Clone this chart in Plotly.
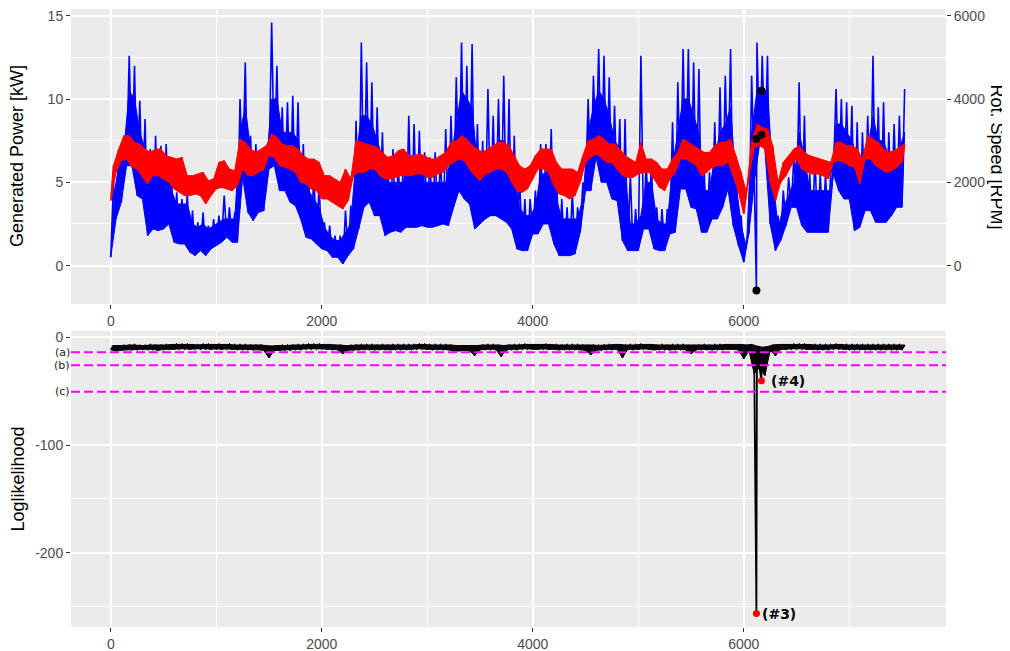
import plotly.graph_objects as go

# ---------------- data ----------------
BIN = 50  # samples per bin; each bin gives min / dense-band top / max of the series

power_lo = [0.5, 2.8, 3.8, 6.0, 6.0, 4.2, 4.0, 1.8, 2.2, 2.1,
            2.2, 2.5, 1.4, 1.3, 1.3, 0.8, 0.6, 0.9, 0.6, 1.0,
            1.2, 1.4, 1.7, 1.4, 1.4, 5.3, 3.2, 2.7, 3.2, 3.3,
            5.8, 6.0, 4.5, 4.5, 3.8, 3.6, 2.8, 1.7, 1.6, 1.3,
            1.0, 0.9, 0.5, 0.5, 0.1, 0.6, 1.0, 2.2, 3.5, 3.8,
            3.0, 3.0, 1.8, 2.0, 2.1, 2.0, 2.3, 2.3, 2.3, 2.4,
            2.3, 2.3, 2.4, 2.5, 2.4, 3.5, 4.5, 4.0, 3.7, 2.2,
            2.5, 2.8, 3.0, 3.0, 2.8, 2.6, 2.2, 1.0, 0.9, 0.9,
            1.9, 1.9, 2.5, 2.5, 1.3, 0.6, 0.6, 0.6, 0.7, 2.0,
            4.5, 4.5, 6.5, 5.0, 5.0, 4.0, 3.9, 1.5, 0.9, 0.9,
            0.9, 2.2, 2.2, 1.0, 0.9, 0.9, 1.9, 2.0, 4.6, 4.6,
            3.5, 3.4, 2.0, 2.0, 2.8, 2.8, 3.5, 4.6, 2.4, 1.2,
            0.2, 2.0, 5.0, 7.3, 7.0, 2.5, 0.9, 1.5, 2.4, 3.5,
            3.5, 2.4, 2.0, 2.0, 2.0, 2.0, 2.0, 5.5, 4.5, 4.0,
            4.0, 2.1, 2.3, 3.3, 3.3, 2.6, 2.6, 2.6, 3.0, 3.5,
            3.5]
power_core = [4.0, 6.0, 7.0, 10.5, 10.0, 8.0, 7.0, 6.3, 6.3, 6.3,
              6.0, 4.5, 3.7, 3.7, 3.7, 2.5, 2.3, 2.5, 2.2, 2.4,
              2.6, 2.8, 2.8, 2.8, 8.0, 9.5, 7.0, 6.0, 5.5, 6.0,
              10.0, 10.0, 8.0, 8.0, 8.0, 7.5, 5.5, 4.5, 4.0, 3.5,
              2.3, 1.8, 1.5, 1.5, 2.0, 2.5, 6.5, 9.0, 9.0, 8.5,
              7.5, 6.5, 5.0, 5.0, 5.0, 5.0, 6.5, 6.5, 6.0, 5.0,
              5.0, 5.0, 5.0, 5.0, 6.5, 8.5, 10.5, 10.0, 9.5, 6.0,
              5.5, 7.0, 7.0, 7.5, 7.5, 7.0, 5.5, 3.5, 3.0, 3.0,
              3.5, 5.5, 5.5, 6.0, 4.0, 2.8, 2.8, 2.8, 2.8, 4.0,
              8.0, 9.5, 10.5, 10.0, 9.0, 7.5, 7.0, 5.5, 2.5, 2.5,
              3.0, 5.0, 5.0, 2.8, 2.5, 2.5, 6.0, 8.0, 10.0, 10.0,
              9.0, 8.0, 4.5, 4.5, 6.5, 8.0, 8.5, 9.5, 5.0, 2.5,
              1.0, 8.0, 10.5, 10.5, 10.5, 5.5, 2.2, 3.5, 4.2, 5.0,
              8.0, 6.5, 4.5, 4.5, 4.5, 4.5, 4.5, 8.5, 8.5, 8.0,
              7.5, 6.5, 5.5, 7.0, 9.0, 7.5, 7.5, 6.5, 6.5, 7.0,
              8.0]
power_hi = [5.0, 6.8, 7.4, 12.6, 12.0, 9.9, 8.8, 7.0, 7.8, 7.2,
            7.3, 5.6, 4.4, 4.0, 4.3, 3.3, 2.6, 3.2, 2.4, 2.8,
            3.0, 4.2, 3.5, 3.2, 10.0, 12.2, 7.8, 7.3, 6.5, 7.0,
            14.6, 12.0, 9.5, 9.8, 10.2, 9.8, 7.3, 5.3, 5.5, 4.9,
            2.6, 2.4, 1.8, 1.8, 3.3, 3.6, 8.7, 13.4, 12.2, 11.0,
            9.5, 8.0, 6.5, 7.0, 6.2, 7.0, 9.0, 8.5, 8.1, 6.8,
            6.5, 6.8, 6.5, 8.2, 9.0, 11.3, 13.4, 12.0, 13.3, 8.5,
            7.5, 10.6, 9.0, 10.0, 11.4, 10.0, 7.8, 5.4, 4.0, 4.0,
            4.5, 7.3, 7.3, 8.2, 5.5, 4.0, 3.5, 4.4, 3.5, 5.0,
            10.0, 11.4, 13.0, 12.6, 11.3, 9.6, 8.8, 8.8, 5.5, 3.4,
            12.6, 6.2, 6.2, 3.5, 3.4, 3.4, 8.6, 11.0, 13.0, 13.0,
            12.2, 11.8, 5.6, 5.6, 8.6, 10.7, 11.4, 13.0, 6.0, 3.0,
            1.5, 11.4, 13.4, 12.6, 12.6, 7.0, 3.0, 4.5, 5.3, 6.5,
            11.0, 9.0, 5.5, 6.5, 5.5, 5.5, 5.8, 10.6, 10.0, 9.8,
            9.6, 8.6, 8.0, 9.0, 12.6, 9.5, 9.8, 8.0, 8.5, 9.0,
            10.6]

rpm_lo = [1560, 2240, 2520, 2560, 2360, 2320, 2120, 1960, 2160, 2160,
          2080, 2000, 1840, 1760, 1680, 1680, 1720, 1680, 1480, 1680,
          1840, 1880, 1840, 1800, 1920, 2320, 2160, 2160, 2240, 2320,
          2640, 2600, 2400, 2360, 2320, 2240, 2000, 1960, 1840, 1800,
          1600, 1600, 1520, 1440, 1360, 1560, 2160, 2240, 2240, 2320,
          2320, 2160, 2080, 2080, 2120, 2160, 2160, 2160, 2200, 2200,
          2120, 2120, 2200, 2240, 2400, 2480, 2560, 2520, 2320, 2160,
          2040, 2200, 2240, 2320, 2320, 2240, 2000, 1800, 1760, 1840,
          2080, 2320, 2320, 2240, 1920, 1720, 1680, 1600, 1680, 2000,
          2480, 2600, 2680, 2600, 2480, 2480, 2320, 2160, 2120, 2120,
          2200, 2240, 2240, 2080, 1880, 1800, 2080, 2240, 2560, 2560,
          2480, 2400, 2160, 2240, 2360, 2400, 2400, 2480, 2160, 1760,
          1240, 2160, 2840, 2880, 2800, 2000, 1560, 2000, 2160, 2400,
          2560, 2320, 2240, 2200, 2200, 2160, 2080, 2480, 2520, 2480,
          2400, 2360, 1960, 2560, 2560, 2400, 2320, 2240, 2280, 2360,
          2480]
rpm_hi = [2400, 2800, 3120, 3120, 2960, 2920, 2800, 2720, 2800, 2800,
          2640, 2600, 2560, 2600, 2160, 2160, 2200, 2240, 2040, 2080,
          2480, 2520, 2320, 2280, 3040, 2960, 2800, 2720, 2800, 2880,
          3160, 3080, 2920, 2880, 2880, 2800, 2640, 2560, 2560, 2480,
          2160, 2160, 2080, 2000, 2320, 2080, 3000, 2960, 2920, 2880,
          2840, 2720, 2600, 2640, 2760, 2800, 2640, 2640, 2680, 2640,
          2560, 2560, 2640, 2720, 2960, 3000, 3120, 3040, 2880, 2800,
          2720, 2800, 2880, 2960, 2960, 2880, 2640, 2400, 2320, 2400,
          2640, 2800, 2800, 2800, 2480, 2320, 2320, 2320, 2240, 2640,
          3000, 3040, 3120, 3040, 2920, 2920, 2800, 2640, 2560, 2480,
          2960, 2560, 2560, 2480, 2320, 2320, 2560, 2720, 3040, 2960,
          2880, 2800, 2720, 2720, 2880, 2960, 2960, 3040, 2640, 2240,
          1760, 2960, 3400, 3320, 3280, 2880, 2000, 2480, 2640, 2800,
          2880, 2720, 2640, 2600, 2560, 2520, 2480, 2960, 2960, 2880,
          2880, 2800, 2560, 3120, 3040, 2960, 2800, 2720, 2760, 2840,
          2920]

ll_hi = [-7.5, -7.5, -7.5, -7.0, -7.0, -7.5, -7.5, -7.0, -7.0, -7.0,
         -7.0, -6.5, -6.5, -6.5, -6.5, -6.5, -7.0, -6.5, -6.5, -6.5,
         -6.5, -6.5, -6.5, -7.0, -7.0, -7.0, -7.0, -7.0, -7.0, -7.5,
         -8.0, -7.5, -7.5, -7.5, -7.0, -7.0, -7.0, -6.5, -6.5, -6.5,
         -6.5, -6.5, -7.0, -7.0, -7.5, -7.5, -7.0, -7.0, -7.0, -7.0,
         -7.0, -7.0, -7.0, -7.0, -7.0, -7.0, -7.0, -7.0, -6.5, -6.5,
         -7.0, -7.0, -7.0, -7.0, -7.0, -7.5, -7.5, -7.5, -7.5, -7.5,
         -7.0, -7.0, -7.0, -7.0, -7.5, -7.0, -7.0, -7.0, -6.5, -6.5,
         -6.5, -6.5, -6.5, -6.5, -7.0, -7.0, -7.0, -7.0, -7.0, -7.0,
         -7.0, -7.0, -7.5, -7.0, -7.0, -6.5, -6.5, -7.0, -7.0, -7.0,
         -6.5, -6.5, -6.5, -7.0, -7.0, -7.0, -7.0, -7.0, -7.0, -7.0,
         -7.0, -7.0, -7.0, -7.0, -7.0, -7.0, -6.5, -6.5, -6.5, -6.5,
         -7.0, -6.5, -8.0, -9.0, -8.5, -7.0, -6.5, -6.5, -6.5, -6.5,
         -6.5, -6.5, -6.5, -7.0, -7.0, -7.0, -7.0, -6.5, -6.5, -7.0,
         -7.0, -7.0, -7.0, -7.0, -7.0, -7.0, -7.0, -7.0, -7.0, -7.0,
         -7.0]
ll_lo = [-11.5, -12.5, -12.0, -11.5, -11.5, -11.0, -11.0, -11.0, -11.0, -12.0,
         -11.0, -11.0, -11.0, -10.5, -10.5, -11.0, -10.5, -10.5, -10.5, -11.0,
         -10.5, -11.0, -10.5, -11.0, -11.0, -11.0, -11.0, -11.5, -11.5, -12.0,
         -18.9, -12.0, -12.0, -11.5, -11.5, -11.0, -11.0, -10.5, -10.5, -10.5,
         -10.5, -11.0, -11.0, -11.5, -15.2, -12.0, -11.5, -11.5, -11.0, -11.0,
         -11.5, -11.0, -11.0, -11.5, -11.0, -11.0, -11.0, -11.0, -10.5, -10.5,
         -11.0, -11.0, -11.0, -11.0, -11.5, -12.5, -12.5, -12.0, -12.5, -16.7,
         -11.5, -11.0, -11.0, -11.0, -17.7, -11.5, -11.0, -11.0, -10.5, -10.5,
         -11.0, -11.0, -10.5, -11.0, -11.0, -11.5, -11.0, -11.0, -11.0, -11.5,
         -12.0, -16.0, -12.0, -11.5, -11.0, -11.0, -11.0, -18.9, -11.0, -11.0,
         -11.0, -10.5, -11.0, -11.5, -11.0, -11.0, -11.5, -11.0, -11.0, -11.5,
         -15.2, -11.5, -11.0, -11.0, -11.5, -11.0, -11.0, -11.0, -11.0, -11.5,
         -19.8, -12.5, -33.8, -28.0, -35.3, -12.0, -16.7, -11.0, -11.0, -10.5,
         -10.5, -10.5, -11.0, -11.0, -11.0, -11.0, -11.0, -10.5, -10.5, -11.0,
         -11.0, -11.0, -11.0, -11.0, -11.0, -11.0, -11.0, -11.0, -11.0, -11.0,
         -11.0]

event_t = [6120, 6167]
event_power = [-1.5, 10.5]
event_rpm = [3040, 3140]
event_ll = [-256.5, -40.3]
event_labels = ["(#3)", "(#4)"]

thresholds = [-13.8, -25.8, -50.5]
threshold_labels = ["(a)", "(b)", "(c)"]


def zigzag(lo, hi, ev_t=(), ev_v=()):
    """min at bin start, max at bin middle, plus the marked events."""
    pts = []
    for i, (a, b) in enumerate(zip(lo, hi)):
        pts.append((i * BIN, a))
        pts.append((i * BIN + BIN / 2, b))
    pts += list(zip(ev_t, ev_v))
    pts.sort(key=lambda p: p[0])
    return [p[0] for p in pts], [p[1] for p in pts]


def band(lo, top):
    """closed polygon: top edge forward, bottom edge backward."""
    n = len(lo)
    xs = [i * BIN + BIN / 2 for i in range(n)] + [i * BIN for i in reversed(range(n))]
    ys = list(top) + list(reversed(lo))
    return xs, ys


pt_x, pt_y = zigzag(power_lo, power_hi, event_t, event_power)
pb_x, pb_y = band(power_lo, power_core)
rt_x, rt_y = zigzag(rpm_lo, rpm_hi, event_t, event_rpm)
rb_x, rb_y = band(rpm_lo, rpm_hi)
lt_x, lt_y = zigzag(ll_lo, ll_hi, event_t, event_ll)
lb_x, lb_y = band(ll_lo, ll_hi)

# ---------------- figure ----------------
# the page body has an 8px margin, so the figure is 8px smaller and
# margins are measured from (8, 8)
OFF = 8
W, H = 1010 - OFF, 651 - OFF
PL, PR, PT, PB = 71, 946, 9, 627          # absolute plot-area edges
ML, MR, MT, MB = PL - OFF, (W + OFF) - PR, PT - OFF, (H + OFF) - PB
ph = PB - PT
pw = PR - PL
top_dom = [1 - (304 - PT) / ph, 1]
bot_dom = [0, (PB - 331) / ph]

xr = [-377, 7917]
p_rng = [-2.305, 15.405]
r_rng = [p_rng[0] * 400, p_rng[1] * 400]
l_rng = [-269, 6]

TICKF = dict(family="Liberation Sans, Arial, sans-serif", size=14, color="#4D4D4D")
TITLEF = dict(family="Liberation Sans, Arial, sans-serif", size=18, color="black")
BLUE, RED = "#0000FF", "#FF0000"

fig = go.Figure()
fig.add_trace(go.Scatter(x=pb_x, y=pb_y, mode="lines", fill="toself", fillcolor=BLUE,
                         line=dict(color=BLUE, width=1, simplify=False),
                         xaxis="x", yaxis="y", hoverinfo="skip"))
fig.add_trace(go.Scatter(x=pt_x, y=pt_y, mode="lines",
                         line=dict(color=BLUE, width=1.6, simplify=False),
                         xaxis="x", yaxis="y", hoverinfo="skip"))
fig.add_trace(go.Scatter(x=rb_x, y=rb_y, mode="lines", fill="toself", fillcolor=RED,
                         line=dict(color=RED, width=1, simplify=False),
                         xaxis="x", yaxis="y2", hoverinfo="skip"))
fig.add_trace(go.Scatter(x=rt_x, y=rt_y, mode="lines",
                         line=dict(color=RED, width=1.6, simplify=False),
                         xaxis="x", yaxis="y2", hoverinfo="skip"))
fig.add_trace(go.Scatter(x=event_t, y=event_power, mode="markers",
                         marker=dict(color="black", size=8), xaxis="x", yaxis="y"))
fig.add_trace(go.Scatter(x=event_t, y=event_rpm, mode="markers",
                         marker=dict(color="black", size=8), xaxis="x", yaxis="y2"))

fig.add_trace(go.Scatter(x=lb_x, y=lb_y, mode="lines", fill="toself", fillcolor="black",
                         line=dict(color="black", width=1, simplify=False),
                         xaxis="x2", yaxis="y3", hoverinfo="skip"))
fig.add_trace(go.Scatter(x=lt_x, y=lt_y, mode="lines",
                         line=dict(color="black", width=1.8, simplify=False),
                         xaxis="x2", yaxis="y3", hoverinfo="skip"))
for th in thresholds:
    fig.add_trace(go.Scatter(x=xr, y=[th, th], mode="lines",
                             line=dict(color="#FF00FF", width=2, dash="9px,4px"),
                             xaxis="x2", yaxis="y3", hoverinfo="skip"))
fig.add_trace(go.Scatter(x=event_t, y=event_ll, mode="markers",
                         marker=dict(color=RED, size=7), xaxis="x2", yaxis="y3"))

ann = []
for t, v, lab, sh in zip(event_t, event_ll, event_labels, [4, 8]):
    ann.append(dict(x=t, y=v, xref="x2", yref="y3", text=lab, showarrow=False,
                    xanchor="left", xshift=sh,
                    font=dict(family="DejaVu Sans", size=14, color="black", weight="bold")))
for th, lab in zip(thresholds, threshold_labels):
    ann.append(dict(x=0, y=th, xref="paper", yref="y3", text=lab, showarrow=False,
                    xanchor="right", xshift=1,
                    font=dict(family="DejaVu Sans", size=11, color="#1A1A1A")))
ann.append(dict(x=(17.5 - PL) / pw, y=0.5, xref="paper", yref="y domain",
                xanchor="center", yanchor="middle",
                text="Generated Power [kW]", textangle=-90, showarrow=False, font=TITLEF))
ann.append(dict(x=1 + (996 - PR) / pw, y=0.5, xref="paper", yref="y domain",
                xanchor="center", yanchor="middle",
                text="Rot. Speed [RPM]", textangle=90, showarrow=False, font=TITLEF))
ann.append(dict(x=(17.5 - PL) / pw, y=0.5, xref="paper", yref="y3 domain",
                xanchor="center", yanchor="middle",
                text="Loglikelihood", textangle=-90, showarrow=False, font=TITLEF))

axcommon = dict(showline=False, zeroline=False, ticks="outside", ticklen=4, tickwidth=1.3,
                tickcolor="#333333", tickfont=TICKF, gridcolor="white", gridwidth=2,
                automargin=False, ticklabeloverflow="allow")
xtv = [0, 2000, 4000, 6000]
xtt = [str(v) for v in xtv]
xminor = dict(tickmode="array", tickvals=[1000, 3000, 5000, 7000], showgrid=True,
              gridcolor="white", gridwidth=1, ticks="")

fig.update_layout(
    width=W, height=H, margin=dict(l=ML, r=MR, t=MT, b=MB),
    paper_bgcolor="white", plot_bgcolor="#EBEBEB", showlegend=False,
    annotations=ann,
    xaxis=dict(domain=[0, 1], anchor="y", range=xr, tickmode="array",
               tickvals=xtv, ticktext=xtt, minor=xminor, **axcommon),
    yaxis=dict(domain=top_dom, anchor="x", range=p_rng, tickmode="array",
               tickvals=[0, 5, 10, 15], ticktext=["0", "5", "10", "15"],
               minor=dict(tickmode="array", tickvals=[-2.5, 2.5, 7.5, 12.5], showgrid=True,
                          gridcolor="white", gridwidth=1, ticks=""),
               **axcommon),
    yaxis2=dict(overlaying="y", anchor="x", side="right", range=r_rng, tickmode="array",
                tickvals=[0, 2000, 4000, 6000], ticktext=["0", "2000", "4000", "6000"],
                showgrid=False, showline=False, zeroline=False, ticks="outside", ticklen=4,
                tickwidth=1.3, tickcolor="#333333", tickfont=TICKF, automargin=False,
                ticklabeloverflow="allow"),
    xaxis2=dict(domain=[0, 1], anchor="y3", range=xr, tickmode="array",
                tickvals=xtv, ticktext=xtt, minor=xminor, **axcommon),
    yaxis3=dict(domain=bot_dom, anchor="x2", range=l_rng, tickmode="array",
                tickvals=[-200, -100, 0], ticktext=["-200", "-100", "0"],
                minor=dict(tickmode="array", tickvals=[-250, -150, -50], showgrid=True,
                           gridcolor="white", gridwidth=1, ticks=""),
                **axcommon),
)

fig.write_html("out.html")
